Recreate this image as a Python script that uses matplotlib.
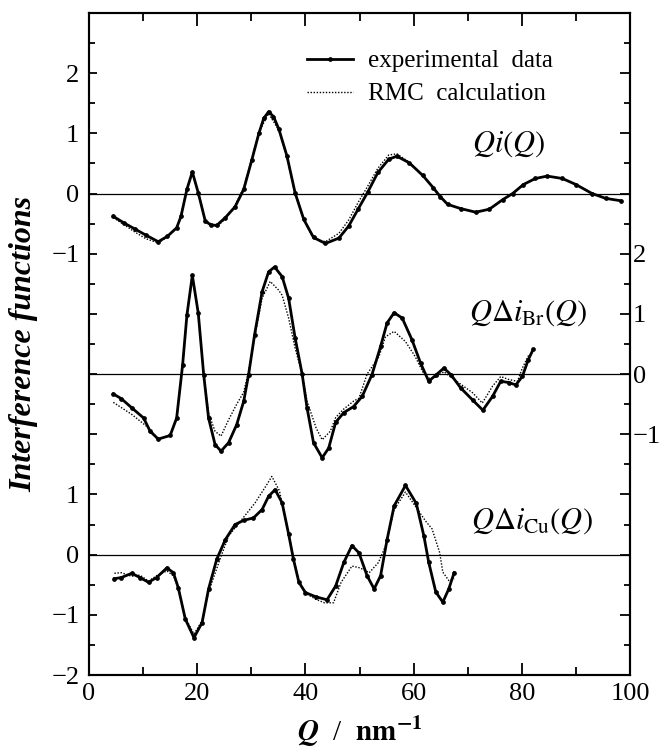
import matplotlib
matplotlib.use('Agg')
import matplotlib.pyplot as plt

plt.rcParams['font.family'] = 'Liberation Serif'
plt.rcParams['mathtext.fontset'] = 'stix'

# Qi(Q), drawn with offset 6
qi_exp_x = [4.5, 6.5, 8.5, 10.5, 12.8, 14.5, 16.2, 17.0, 18.1, 19.1, 20.2, 21.5, 22.5, 23.6, 25.2,
            27.0, 28.6, 30.1, 31.4, 32.3, 33.2, 34.1, 35.1, 36.6, 38.1, 39.7, 41.5, 43.7, 46.2, 48.0,
            49.8, 51.5, 53.4, 55.4, 56.9, 59.2, 61.7, 63.6, 64.9, 66.3, 68.7, 71.5, 74.0, 76.5, 78.3,
            80.3, 82.5, 84.7, 87.5, 90.0, 93.0, 95.5, 98.3]
qi_exp_y = [-0.38, -0.49, -0.59, -0.69, -0.80, -0.71, -0.57, -0.38, 0.07, 0.36, 0.01, -0.46, -0.52, -0.53, -0.40,
            -0.22, 0.07, 0.56, 1.00, 1.25, 1.36, 1.28, 1.07, 0.62, 0.01, -0.43, -0.73, -0.83, -0.74, -0.54,
            -0.25, 0.02, 0.35, 0.57, 0.62, 0.51, 0.30, 0.10, -0.05, -0.18, -0.25, -0.31, -0.26, -0.10, 0.00,
            0.15, 0.25, 0.29, 0.25, 0.15, 0.00, -0.08, -0.12]
qi_rmc_x = [4.5, 6.5, 8.5, 10.5, 12.8, 14.5, 16.2, 17.0, 18.1, 19.1, 20.2, 21.5, 23.6, 25.2, 27.0,
            28.6, 30.1, 31.4, 33.2, 35.1, 36.6, 38.1, 39.7, 41.5, 43.7, 46.2, 48.0, 49.8, 51.5, 53.4,
            55.4, 56.9, 59.2, 61.7, 63.6, 66.3, 68.7, 71.5, 74.0, 76.5, 78.3, 80.3, 82.5, 84.7, 87.5,
            90.0, 93.0, 95.5, 98.3]
qi_rmc_y = [-0.40, -0.52, -0.64, -0.75, -0.82, -0.72, -0.57, -0.36, 0.08, 0.33, 0.02, -0.45, -0.55, -0.42, -0.20,
            0.10, 0.58, 1.02, 1.33, 1.05, 0.60, 0.00, -0.44, -0.75, -0.80, -0.66, -0.44, -0.14, 0.12, 0.42,
            0.64, 0.66, 0.52, 0.30, 0.10, -0.18, -0.25, -0.31, -0.26, -0.10, 0.00, 0.15, 0.25, 0.29, 0.25,
            0.15, 0.00, -0.08, -0.12]

# Q delta i_Br(Q), drawn with offset 3
br_exp_x = [4.5, 6.0, 7.9, 10.1, 11.3, 12.8, 15.0, 16.2, 17.3, 18.1, 19.1, 20.2, 21.2, 22.1, 23.3,
            24.4, 25.8, 27.3, 28.6, 29.5, 30.6, 32.0, 33.2, 34.3, 35.7, 36.9, 38.1, 39.4, 40.3, 41.5,
            43.1, 44.3, 45.6, 47.1, 48.9, 50.5, 52.3, 53.9, 55.1, 56.4, 57.9, 59.7, 61.3, 62.8, 64.2,
            65.6, 66.9, 68.7, 70.9, 72.8, 74.6, 76.1, 77.6, 78.9, 80.1, 81.2, 82.1]
br_exp_y = [-0.33, -0.41, -0.56, -0.73, -0.95, -1.08, -1.02, -0.73, 0.15, 0.98, 1.64, 1.01, -0.01, -0.73, -1.17,
            -1.28, -1.14, -0.84, -0.45, -0.01, 0.65, 1.37, 1.70, 1.78, 1.62, 1.26, 0.60, 0.00, -0.56, -1.14,
            -1.39, -1.23, -0.80, -0.64, -0.54, -0.37, -0.01, 0.46, 0.85, 1.02, 0.93, 0.57, 0.18, -0.12, -0.01,
            0.10, -0.01, -0.23, -0.43, -0.60, -0.37, -0.12, -0.14, -0.18, -0.04, 0.24, 0.41]
br_rmc_x = [4.5, 7.9, 11.1, 12.8, 15.0, 16.2, 17.3, 18.1, 19.1, 20.2, 21.2, 22.1, 23.3, 24.4, 25.8,
            27.3, 28.6, 29.5, 30.6, 32.0, 33.5, 35.0, 35.7, 36.9, 38.1, 39.4, 40.3, 42.0, 43.1, 44.6,
            45.6, 47.1, 48.9, 49.9, 51.4, 53.6, 54.8, 56.4, 58.5, 60.3, 61.8, 62.8, 64.2, 65.6, 66.9,
            68.9, 70.9, 72.7, 74.6, 76.1, 77.6, 79.2, 80.1, 81.3]
br_rmc_y = [-0.47, -0.67, -0.90, -1.08, -1.02, -0.73, 0.15, 0.98, 1.60, 1.01, 0.00, -0.65, -0.95, -1.03, -0.76,
            -0.50, -0.30, 0.05, 0.60, 1.26, 1.54, 1.40, 1.31, 0.93, 0.43, 0.00, -0.45, -0.90, -1.09, -0.95,
            -0.72, -0.58, -0.45, -0.40, 0.00, 0.29, 0.62, 0.71, 0.54, 0.29, 0.02, -0.07, -0.05, 0.04, -0.05,
            -0.18, -0.31, -0.48, -0.20, -0.04, -0.09, -0.12, 0.10, 0.32]

# Q delta i_Cu(Q), no offset
cu_exp_x = [4.7, 6.0, 7.9, 9.4, 11.0, 12.5, 14.4, 15.6, 16.5, 17.8, 19.4, 20.9, 22.1, 23.6, 25.2,
            27.0, 28.6, 30.4, 32.0, 33.2, 34.4, 35.7, 36.9, 37.8, 38.8, 40.0, 41.9, 44.0, 45.6, 47.1,
            48.6, 49.9, 51.4, 52.7, 53.9, 55.1, 56.4, 58.5, 60.5, 61.9, 62.8, 64.1, 65.4, 66.5, 67.5]
cu_exp_y = [-0.40, -0.38, -0.31, -0.38, -0.46, -0.38, -0.22, -0.30, -0.55, -1.07, -1.38, -1.13, -0.57, -0.08, 0.25,
            0.50, 0.57, 0.61, 0.75, 0.97, 1.08, 0.86, 0.34, -0.08, -0.46, -0.63, -0.70, -0.75, -0.52, -0.13,
            0.15, 0.03, -0.35, -0.57, -0.35, 0.25, 0.81, 1.15, 0.85, 0.31, -0.13, -0.62, -0.79, -0.57, -0.30]
cu_rmc_x = [4.7, 6.0, 7.9, 9.4, 11.0, 12.5, 14.4, 15.6, 16.5, 17.8, 19.4, 20.9, 22.1, 24.2, 25.8,
            28.3, 30.7, 32.7, 33.8, 35.2, 36.7, 37.8, 38.8, 40.0, 41.9, 43.5, 45.2, 46.6, 48.6, 50.1,
            51.8, 53.5, 54.8, 56.4, 58.5, 60.9, 62.2, 63.4, 64.8, 65.4, 66.5, 67.5]
cu_rmc_y = [-0.31, -0.30, -0.36, -0.34, -0.44, -0.35, -0.27, -0.35, -0.55, -1.05, -1.32, -1.10, -0.62, -0.08, 0.31,
            0.59, 0.86, 1.14, 1.30, 1.06, 0.42, -0.05, -0.44, -0.64, -0.74, -0.80, -0.80, -0.46, -0.19, -0.22,
            -0.30, -0.13, 0.14, 0.75, 1.04, 0.73, 0.56, 0.43, 0.04, -0.29, -0.43, -0.40]

curvas = [
    (qi_exp_x, qi_exp_y, qi_rmc_x, qi_rmc_y, 6, r'$Qi(Q)$', 70.8, 6.82),
    (br_exp_x, br_exp_y, br_rmc_x, br_rmc_y, 3, r'$Q\mathit{\Delta}i_{\mathrm{Br}}(Q)$', 70.2, 4.02),
    (cu_exp_x, cu_exp_y, cu_rmc_x, cu_rmc_y, 0, r'$Q\mathit{\Delta}i_{\mathrm{Cu}}(Q)$', 70.6, 0.56),
]

fig = plt.figure(figsize=(6.6, 7.51), dpi=100)
ax = fig.add_axes([89/660, 76/751, 541/660, 662/751])

for i, (ex, ey, rx, ry, off, etiqueta, tx, ty) in enumerate(curvas):
    ax.axhline(off, color='black', lw=0.9, zorder=1)
    ax.plot(rx, [v + off for v in ry], color='black', lw=1.0, ls=(0, (1, 1.2)),
            label='RMC  calculation' if i == 0 else None, zorder=2)
    ax.plot(ex, [v + off for v in ey], color='black', lw=2.0, marker='o', ms=2.4,
            label='experimental  data' if i == 0 else None, zorder=3)
    ax.text(tx, ty, etiqueta, fontsize=22, va='center', ha='left')

h, l = ax.get_legend_handles_labels()
ax.legend(h[::-1], l[::-1], loc='upper left', bbox_to_anchor=(0.38, 0.963), frameon=False,
          fontsize=18, handlelength=1.85, handletextpad=0.6, labelspacing=0.42, borderpad=0,
          numpoints=1)

ax.set_xlim(0, 100)
ax.set_ylim(-2, 9)

ax.set_xticks([0, 20, 40, 60, 80, 100])
ax.set_xticks([10, 30, 50, 70, 90], minor=True)
ax.tick_params(axis='x', which='both', direction='in', top=True, bottom=True, labelsize=19, pad=6)
ax.tick_params(axis='x', which='major', length=9, width=1.3)
ax.tick_params(axis='x', which='minor', length=5.5, width=1.3)

izq = {-2: '−2', -1: '−1', 0: '0', 1: '1', 5: '−1', 6: '0', 7: '1', 8: '2'}
der = {2: '−1', 3: '0', 4: '1', 5: '2'}
mayores = list(range(-2, 9))
menores = [v + 0.5 for v in range(-2, 9)]

ax.set_yticks(mayores)
ax.set_yticklabels([izq.get(v, '') for v in mayores])
ax.set_yticks(menores, minor=True)
ax.tick_params(axis='y', which='both', direction='in', left=True, right=False, labelsize=19, pad=7)
ax.tick_params(axis='y', which='major', length=6, width=1.3)
ax.tick_params(axis='y', which='minor', length=4, width=1.3)

ax2 = ax.twinx()
ax2.set_ylim(-2, 9)
ax2.set_yticks(mayores)
ax2.set_yticklabels([der.get(v, '') for v in mayores])
ax2.set_yticks(menores, minor=True)
ax2.tick_params(axis='y', which='both', direction='in', labelsize=19, pad=2)
ax2.tick_params(axis='y', which='major', length=7, width=1.3)
ax2.tick_params(axis='y', which='minor', length=4.5, width=1.3)

for a in (ax, ax2):
    for s in a.spines.values():
        s.set_linewidth(1.5)

ax.set_xlabel(r'$\mathbfit{Q}$  /  $\mathbf{nm^{-1}}$', fontsize=21, labelpad=6)
fig.text(24/660, 1 - 344/751, 'Interference functions', rotation=90, fontsize=23,
         fontweight='bold', fontstyle='italic', ha='center', va='center')

fig.savefig('out.png', dpi=100)
